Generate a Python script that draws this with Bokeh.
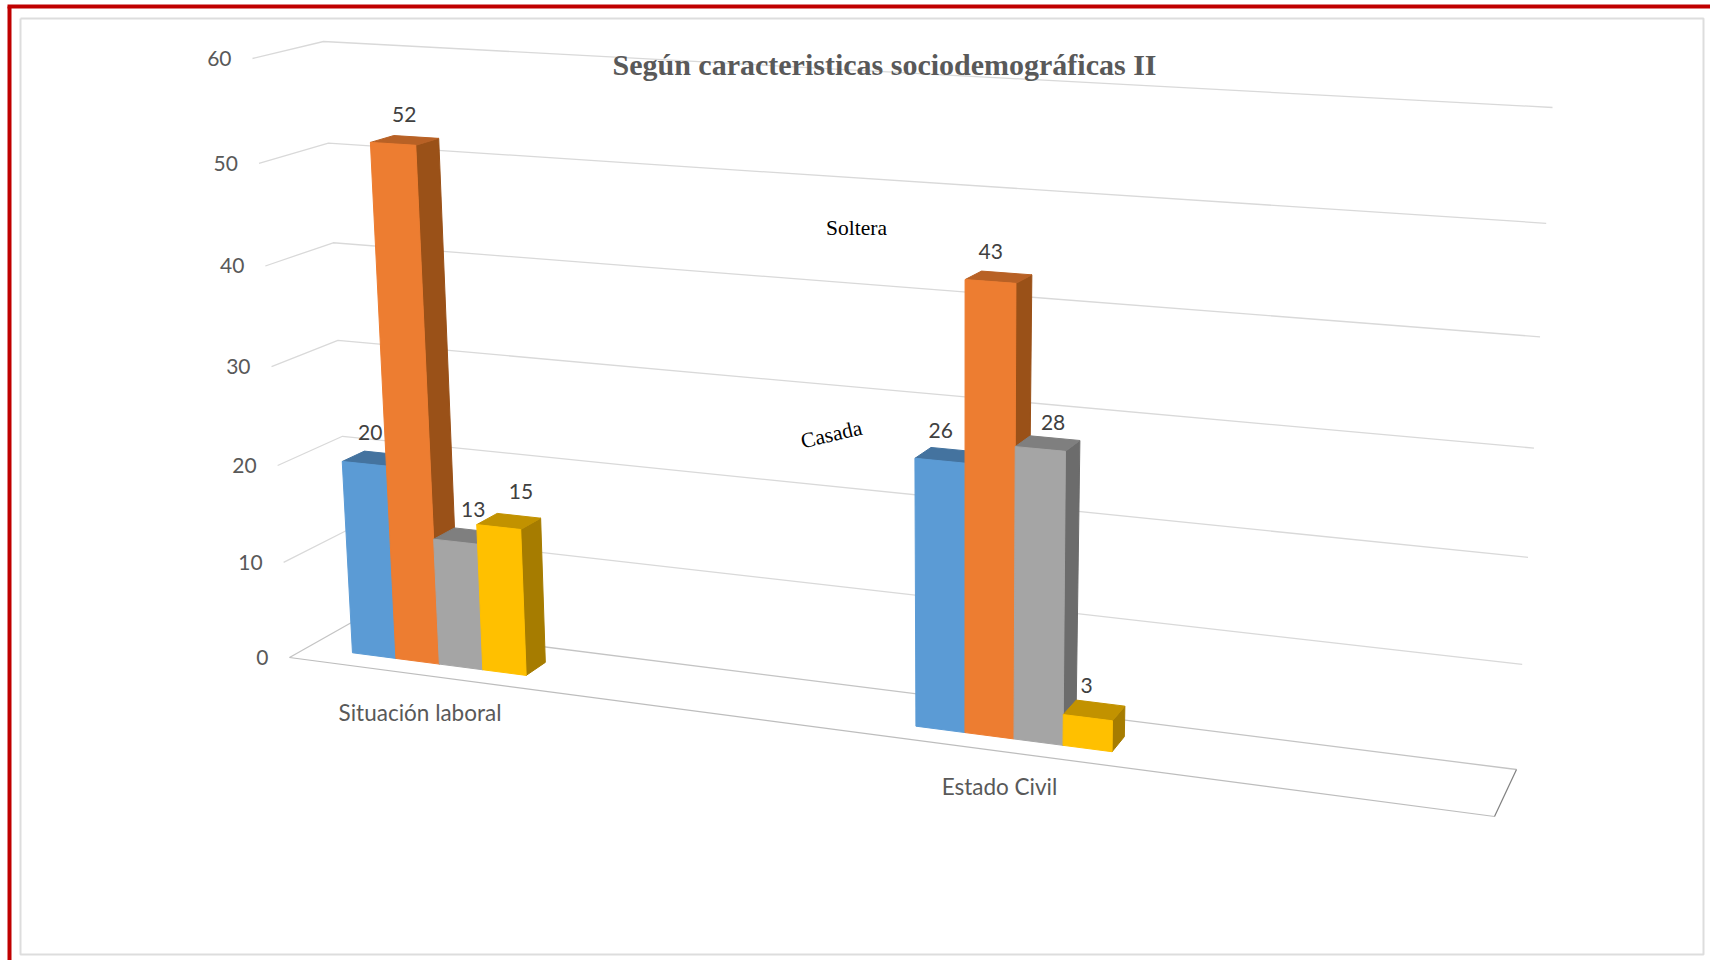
from bokeh.core.properties import value
from bokeh.embed import file_html
from bokeh.models import ColumnDataSource
from bokeh.plotting import figure
from bokeh.resources import INLINE

# Survey counts per group and marital status
categories = ["Situación laboral", "Estado Civil"]
bar_values = [
    [20, 52, 13, 15],
    [26, 43, 28, 3],
]
tick_values = [0, 10, 20, 30, 40, 50, 60]
chart_title = "Según caracteristicas sociodemográficas II"

# Face colours of each column: front, top, right side
face_colors = [
    ("#5B9BD5", "#44739F", "#3F6F9C"),
    ("#ED7D31", "#B86125", "#9A5118"),
    ("#A5A5A5", "#7F7F7F", "#6C6C6C"),
    ("#FFC000", "#C29200", "#A67C00"),
]

# Projected box of the 3D plot: (side, depth, height) -> canvas position
CORNERS = {
    (0, 0, 0): (289, 657), (0, 1, 0): (351, 622),
    (1, 0, 0): (1494, 816), (1, 1, 0): (1516, 769),
    (0, 0, 1): (252, 58), (0, 1, 1): (323, 41),
    (1, 0, 1): (1519, 124), (1, 1, 1): (1552, 107),
}
V_MAX = 60
V_BEND = 1.06  # slight perspective along the height
GROUP_START = [0.0372, 0.5095]
BAR_STEP = [0.0364, 0.0411]
DEPTH_FRONT, DEPTH_BACK = 0.30, 0.65

# Hand placement of the value labels relative to the top of their column
LABEL_NUDGE = [
    [(-16, -21), (-12, -22), (-3, -21), (2, -24)],
    [(-15, -19), (-16, -21), (-2, -16), (-14, -18)],
]
CATEGORY_NUDGE = [(-2, 38), (-3, 35)]


def project(x, d, v):
    """Trilinear projection of side x, depth d and axis value v onto the canvas."""
    f = v / V_MAX
    h = f / (V_BEND - (V_BEND - 1) * f)
    px, py = 0.0, 0.0
    for (cx, cd, ch), (sx, sy) in CORNERS.items():
        w = (x if cx else 1 - x) * (d if cd else 1 - d) * (h if ch else 1 - h)
        px += w * sx
        py += w * sy
    return px, py


def quad(*points):
    xs, ys = zip(*(project(*pt) for pt in points))
    return list(xs), list(ys)


p = figure(width=1710, height=960, x_range=(0, 1710), y_range=(960, 0),
           output_backend="svg", toolbar_location=None, min_border=0,
           outline_line_color=None, background_fill_color="white")
p.xaxis.visible = False
p.yaxis.visible = False
p.xgrid.visible = False
p.ygrid.visible = False

# Frame of the slide and of the chart area
p.line([9, 9], [960, 6], line_color="#C00000", line_width=4)
p.line([7, 1710], [6, 6], line_color="#C00000", line_width=4)
p.line([20, 20, 1703, 1703, 20], [18, 954, 954, 18, 18], line_color="#DDDDDD", line_width=2)

# Gridlines on the side wall and the back wall; the floor line is darker
for tick in tick_values:
    xs, ys = quad((0, 0, tick), (0, 1, tick), (1, 1, tick))
    p.line(xs, ys, line_color="#C4C4C4" if tick == 0 else "#D9D9D9", line_width=1.3)

# Floor outline
xs, ys = quad((0, 0, 0), (1, 0, 0))
p.line(xs, ys, line_color="#BDBDBD", line_width=1.2)
xs, ys = quad((1, 0, 0), (1, 1, 0))
p.line(xs, ys, line_color="#808080", line_width=1.2)

# Columns, painted from left to right so that each one hides its neighbour
labels = {"x": [], "y": [], "t": []}
for g, row in enumerate(bar_values):
    for b, val in enumerate(row):
        x0 = GROUP_START[g] + b * BAR_STEP[g]
        x1 = x0 + BAR_STEP[g]
        front, top, side = face_colors[b]
        d0, d1 = DEPTH_FRONT, DEPTH_BACK
        xs, ys = quad((x1, d0, 0), (x1, d1, 0), (x1, d1, val), (x1, d0, val))
        p.patch(xs, ys, fill_color=side, line_color=side, line_width=1)
        xs, ys = quad((x0, d0, val), (x1, d0, val), (x1, d1, val), (x0, d1, val))
        p.patch(xs, ys, fill_color=top, line_color=top, line_width=1)
        xs, ys = quad((x0, d0, 0), (x1, d0, 0), (x1, d0, val), (x0, d0, val))
        p.patch(xs, ys, fill_color=front, line_color=front, line_width=1)
        lx, ly = project((x0 + x1) / 2, d1, val)
        nx, ny = LABEL_NUDGE[g][b]
        labels["x"].append(lx + nx)
        labels["y"].append(ly + ny)
        labels["t"].append(str(val))

p.text("x", "y", "t", source=ColumnDataSource(labels), text_font=value("Lato"),
       text_font_size="21px", text_color="#404040", text_align="center", text_baseline="middle")

# Value axis labels beside the side wall
tx, ty = zip(*(project(0, 0, t) for t in tick_values))
p.text([x - 21 for x in tx], list(ty), [str(t) for t in tick_values],
       text_font=value("Lato"), text_font_size="21px", text_color="#595959",
       text_align="right", text_baseline="middle")

# Group names under the floor
for g, name in enumerate(categories):
    cx, cy = project(GROUP_START[g] + 2 * BAR_STEP[g], 0, 0)
    nx, ny = CATEGORY_NUDGE[g]
    p.text([cx + nx], [cy + ny], [name], text_font=value("Lato"), text_font_size="22.5px",
           text_color="#595959", text_align="center", text_baseline="middle")

# Title and the two floating series names
p.text([884], [64], [chart_title], text_font=value("Liberation Serif"), text_font_style="bold",
       text_font_size="30px", text_color="#595959", text_align="center", text_baseline="middle")
p.text([856], [227], ["Soltera"], text_font=value("Liberation Serif"), text_font_size="21.5px",
       text_color="#000000", text_align="center", text_baseline="middle")
p.text([831], [434], ["Casada"], text_font=value("Liberation Serif"), text_font_size="21.5px",
       text_color="#000000", text_align="center", text_baseline="middle", angle=0.23)

open("out.html", "w").write(file_html(p, INLINE))
